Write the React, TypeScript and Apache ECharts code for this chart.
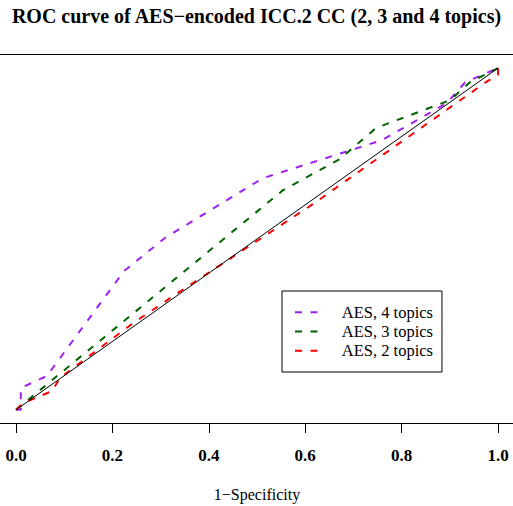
import React, { useEffect, useRef } from "react";
import * as echarts from "echarts";

const titleText = "ROC curve of AES\u2212encoded ICC.2 CC (2, 3 and 4 topics)";
const xAxisName = "1\u2212Specificity";
const tickValues = [0, 0.2, 0.4, 0.6, 0.8, 1.0];
const tickLabels = ["0.0", "0.2", "0.4", "0.6", "0.8", "1.0"];

const seriesNames = ["AES, 4 topics", "AES, 3 topics", "AES, 2 topics"];
const seriesColors = ["#a020f0", "#006400", "#ff0000"];

const fpr4 = [0, 0.01, 0.01, 0.064, 0.224, 0.309, 0.512, 0.759, 0.894, 0.932, 1];
const tpr4 = [0, 0.0, 0.064, 0.099, 0.406, 0.503, 0.678, 0.789, 0.898, 0.959, 1];

const fpr3 = [0, 0.554, 0.672, 0.747, 0.9, 0.942, 1];
const tpr3 = [0, 0.643, 0.734, 0.825, 0.906, 0.959, 1];

const fpr2 = [0, 0.015, 0.075, 0.091, 0.243, 0.323, 0.616, 0.979, 1, 1];
const tpr2 = [0, 0.02, 0.055, 0.093, 0.254, 0.33, 0.602, 0.963, 0.98, 1];

const diagX = [0, 1];
const diagY = [0, 1];

const zip = (xs: number[], ys: number[]) => xs.map((x, i) => [x, ys[i]]);

const dashIcon = "path://M0,0L7,0L7,2L0,2Z M15.5,0L22.5,0L22.5,2L15.5,2Z";

export default function App() {
  const ref = useRef<HTMLDivElement>(null);
  useEffect(() => {
    if (!ref.current) return;
    const chart = echarts.init(ref.current, null, { renderer: "svg" });
    const serif = "'Liberation Serif', 'Times New Roman', serif";
    const curves = [zip(fpr4, tpr4), zip(fpr3, tpr3), zip(fpr2, tpr2)];
    chart.setOption({
      animation: false,
      backgroundColor: "#ffffff",
      title: {
        text: titleText,
        left: "center",
        top: 1,
        textStyle: { fontFamily: serif, fontWeight: "bold", fontSize: 20, color: "#000" },
      },
      grid: {
        left: -3.28,
        width: 520.56,
        top: 54.5,
        height: 369,
        show: true,
        borderColor: "#000",
        borderWidth: 1,
        backgroundColor: "transparent",
        containLabel: false,
        outerBoundsMode: "none",
      },
      xAxis: {
        type: "value",
        min: -0.04,
        max: 1.04,
        name: xAxisName,
        nameLocation: "middle",
        nameGap: 63,
        nameTextStyle: { fontFamily: serif, fontSize: 16, color: "#000" },
        axisLine: { show: true, onZero: false, lineStyle: { color: "#000", width: 1 } },
        axisTick: {
          show: true,
          length: 9.5,
          customValues: tickValues,
          lineStyle: { color: "#000", width: 1 },
        },
        axisLabel: {
          show: true,
          customValues: tickValues,
          margin: 23,
          fontFamily: serif,
          fontSize: 17,
          fontWeight: "bold",
          color: "#000",
          formatter: (v: number) => {
            const i = tickValues.findIndex((t) => Math.abs(t - v) < 1e-9);
            return i >= 0 ? tickLabels[i] : "";
          },
        },
        splitLine: { show: false },
      },
      yAxis: {
        type: "value",
        min: -0.04,
        max: 1.04,
        show: false,
        axisLine: { onZero: false },
        splitLine: { show: false },
      },
      legend: {
        data: seriesNames.map((name) => ({ name, icon: dashIcon })),
        orient: "vertical",
        left: 282,
        top: 291,
        padding: [11.7, 9, 11.7, 13],
        itemGap: 0,
        itemWidth: 23,
        itemHeight: 2,
        borderColor: "#000",
        borderWidth: 1,
        backgroundColor: "#fff",
        textStyle: {
          fontFamily: serif,
          fontSize: 16.5,
          color: "#000",
          lineHeight: 19.2,
          padding: [0, 0, 0, 19],
        },
      },
      series: [
        ...seriesNames.map((name, i) => ({
          name,
          type: "line",
          data: curves[i],
          symbol: "none",
          showSymbol: false,
          lineStyle: { color: seriesColors[i], width: 2, type: [7, 8.5] },
          itemStyle: { color: seriesColors[i] },
          z: 2,
        })),
        {
          name: "diagonal",
          type: "line",
          data: zip(diagX, diagY),
          symbol: "none",
          showSymbol: false,
          lineStyle: { color: "#000", width: 1, type: "solid" },
          z: 3,
        },
      ],
    });
    return () => chart.dispose();
  }, []);
  return (
    <div
      ref={ref}
      style={{ position: "absolute", left: 0, top: 0, width: 513, height: 506 }}
    />
  );
}
